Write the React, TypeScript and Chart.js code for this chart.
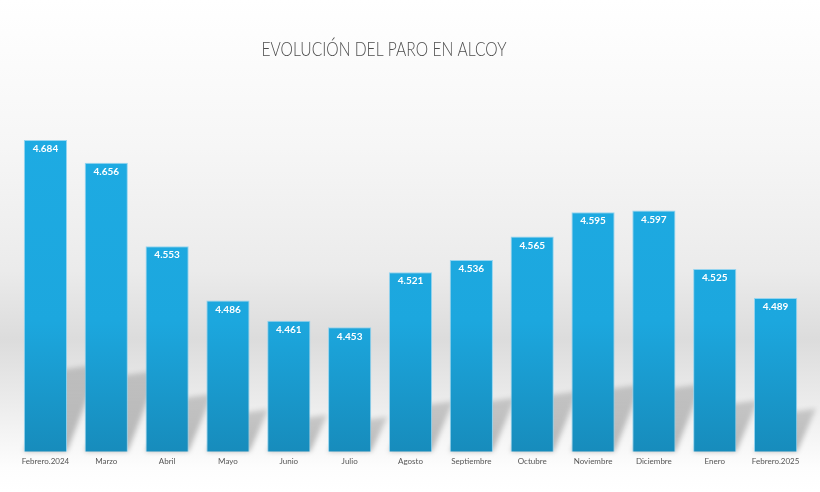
import React, { useEffect, useRef } from "react";
import { Chart, registerables } from "chart.js";

Chart.register(...registerables);

const TITLE = "EVOLUCIÓN DEL PARO EN ALCOY";
const categories = [
  "Febrero.2024", "Marzo", "Abril", "Mayo", "Junio", "Julio", "Agosto",
  "Septiembre", "Octubre", "Noviembre", "Diciembre", "Enero", "Febrero.2025",
];
const paro = [4684, 4656, 4553, 4486, 4461, 4453, 4521, 4536, 4565, 4595, 4597, 4525, 4489];
const valueLabels = ["4.684", "4.656", "4.553", "4.486", "4.461", "4.453", "4.521", "4.536", "4.565", "4.595", "4.597", "4.525", "4.489"];

function drawShadows(chart: any) {
  const ctx = chart.ctx;
  const xs = chart.scales.x;
  const ys = chart.scales.y;
  const base = ys.getPixelForValue(ys.min);
  const half = (xs.getPixelForValue(1) - xs.getPixelForValue(0)) * 0.71 / 2;
  ctx.save();
  ctx.filter = "blur(2.5px)";
  paro.forEach((v, i) => {
    const x = xs.getPixelForValue(i);
    const top = ys.getPixelForValue(v);
    const h = base - top;
    const left = x - half;
    const right = x + half;
    const dh = h * 0.28;
    const dx = h * 0.09 + 5;
    const g = ctx.createLinearGradient(0, base, 0, base - dh);
    g.addColorStop(0, "rgba(0,0,0,0.26)");
    g.addColorStop(1, "rgba(0,0,0,0.16)");
    ctx.fillStyle = g;
    ctx.beginPath();
    ctx.moveTo(left, base);
    ctx.lineTo(right, base);
    ctx.lineTo(right + dx, base - dh);
    ctx.lineTo(left + dx, base - dh + 6);
    ctx.closePath();
    ctx.fill();
  });
  ctx.restore();
}

const bgPlugin = {
  id: "bg",
  beforeDraw(chart: any) {
    const { ctx, width, height } = chart;
    const g = ctx.createLinearGradient(0, 0, 0, height);
    g.addColorStop(0, "#ffffff");
    g.addColorStop(0.3, "#f6f6f6");
    g.addColorStop(0.55, "#ebebeb");
    g.addColorStop(0.69, "#dcdcdc");
    g.addColorStop(0.82, "#ececec");
    g.addColorStop(0.95, "#fdfdfd");
    g.addColorStop(1, "#ffffff");
    ctx.save();
    ctx.fillStyle = g;
    ctx.fillRect(0, 0, width, height);
    ctx.font = "300 19px Lato, 'Open Sans', sans-serif";
    ctx.fillStyle = "#4d4d4d";
    ctx.textAlign = "center";
    ctx.textBaseline = "middle";
    const w = ctx.measureText(TITLE).width;
    const sx = 245 / w;
    ctx.translate(384, 50);
    ctx.scale(sx, 1);
    ctx.fillText(TITLE, 0, 0);
    ctx.restore();
    drawShadows(chart);
  },
};

const labelPlugin = {
  id: "valueLabels",
  afterDatasetsDraw(chart: any) {
    const { ctx } = chart;
    const meta = chart.getDatasetMeta(0);
    ctx.save();
    ctx.font = "bold 10px Lato, 'Open Sans', sans-serif";
    ctx.fillStyle = "#ffffff";
    ctx.textAlign = "center";
    ctx.textBaseline = "middle";
    meta.data.forEach((bar: any, i: number) => {
      ctx.fillText(valueLabels[i], bar.x, bar.y + 9);
    });
    ctx.restore();
  },
};

export default function App() {
  const ref = useRef<HTMLCanvasElement | null>(null);
  useEffect(() => {
    if (!ref.current) return;
    const chart = new Chart(ref.current, {
      type: "bar",
      data: {
        labels: categories,
        datasets: [
          {
            data: paro,
            backgroundColor: (c: any) => {
              const area = c.chart.chartArea;
              if (!area) return "#1ca8df";
              const g = c.chart.ctx.createLinearGradient(0, area.top, 0, area.bottom);
              g.addColorStop(0, "#1eabe3");
              g.addColorStop(0.6, "#1ca7de");
              g.addColorStop(1, "#178cbc");
              return g;
            },
            borderColor: "rgba(140,210,240,0.9)",
            borderWidth: 1,
            categoryPercentage: 1,
            barPercentage: 0.71,
          },
        ],
      },
      options: {
        animation: false,
        responsive: false,
        maintainAspectRatio: false,
        layout: { padding: { left: 15, right: 14, top: 127, bottom: 21 } },
        plugins: { legend: { display: false }, tooltip: { enabled: false }, title: { display: false } },
        scales: {
          y: { display: false, min: 4300, max: 4700 },
          x: {
            grid: { display: false, drawTicks: false },
            border: { display: false },
            ticks: {
              color: "#555555",
              padding: 5,
              maxRotation: 0,
              autoSkip: false,
              font: { size: 8, family: "Lato, 'Open Sans', sans-serif" },
            },
          },
        },
      },
      plugins: [bgPlugin, labelPlugin],
    });
    return () => chart.destroy();
  }, []);
  return (
    <div style={{ position: "fixed", left: 0, top: 0, width: 820, height: 492 }}>
      <canvas ref={ref} width={820} height={492} style={{ width: 820, height: 492, display: "block" }} />
    </div>
  );
}
